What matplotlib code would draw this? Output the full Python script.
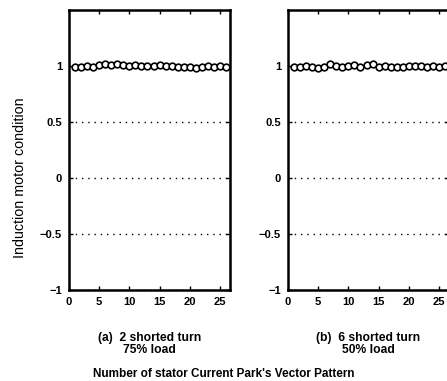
import matplotlib.pyplot as plt

plt.rcParams['font.family'] = ['Liberation Sans', 'DejaVu Sans']

# pattern number and network output for each test case
pattern_no = list(range(1, 27))
out_a = [0.99, 0.99, 1.00, 0.99, 1.01, 1.02, 1.01, 1.02, 1.01, 1.00,
         1.01, 1.00, 1.00, 1.00, 1.01, 1.00, 1.00, 0.99, 0.99, 0.99,
         0.98, 0.99, 1.00, 0.99, 1.00, 0.99]
out_b = [0.99, 0.99, 1.00, 0.99, 0.98, 0.99, 1.02, 1.00, 0.99, 1.00,
         1.01, 0.99, 1.01, 1.02, 0.99, 1.00, 0.99, 0.99, 0.99, 1.00,
         1.00, 1.00, 0.99, 1.00, 0.99, 1.00]
captions = ['(a)  2 shorted turn\n75% load', '(b)  6 shorted turn\n50% load']

yticks = [-1, -0.5, 0, 0.5, 1]
ytick_labels = ['\u22121', '\u22120.5', '0', '0.5', '1']
xticks = [0, 5, 10, 15, 20, 25]

fig = plt.figure(figsize=(4.47, 3.81), dpi=100)
ax_a = fig.add_axes([0.154, 0.239, 0.360, 0.735])
ax_b = fig.add_axes([0.644, 0.239, 0.360, 0.735])

for ax, vals, cap in [(ax_a, out_a, captions[0]), (ax_b, out_b, captions[1])]:
    ax.plot(pattern_no, vals, 'o', mfc='white', mec='black', ms=4.8, mew=1.2,
            clip_on=False, zorder=3)
    ax.set_xlim(0, 26.6)
    ax.set_ylim(-1, 1.5)
    ax.set_yticks(yticks)
    ax.set_yticklabels(ytick_labels)
    ax.set_xticks(xticks)
    ax.yaxis.grid(True, linestyle=(0, (1, 3.5)), color='black', linewidth=1.0)
    ax.tick_params(direction='in', top=True, right=True, length=3, width=1,
                   labelsize=8, pad=5)
    for lab in ax.get_xticklabels() + ax.get_yticklabels():
        lab.set_fontweight('bold')
    for sp in ax.spines.values():
        sp.set_linewidth(1.8)
    ax.text(0.5, -0.15, cap, transform=ax.transAxes, ha='center', va='top',
            fontsize=8.7, fontweight='bold', linespacing=1.05)

fig.text(0.045, 0.533, 'Induction motor condition', rotation=90, ha='center',
         va='center', fontsize=10.3)
fig.text(0.5, 0.003, "Number of stator Current Park's Vector Pattern",
         ha='center', va='bottom', fontsize=8.5, fontweight='bold')

fig.savefig('out.png', dpi=100)
